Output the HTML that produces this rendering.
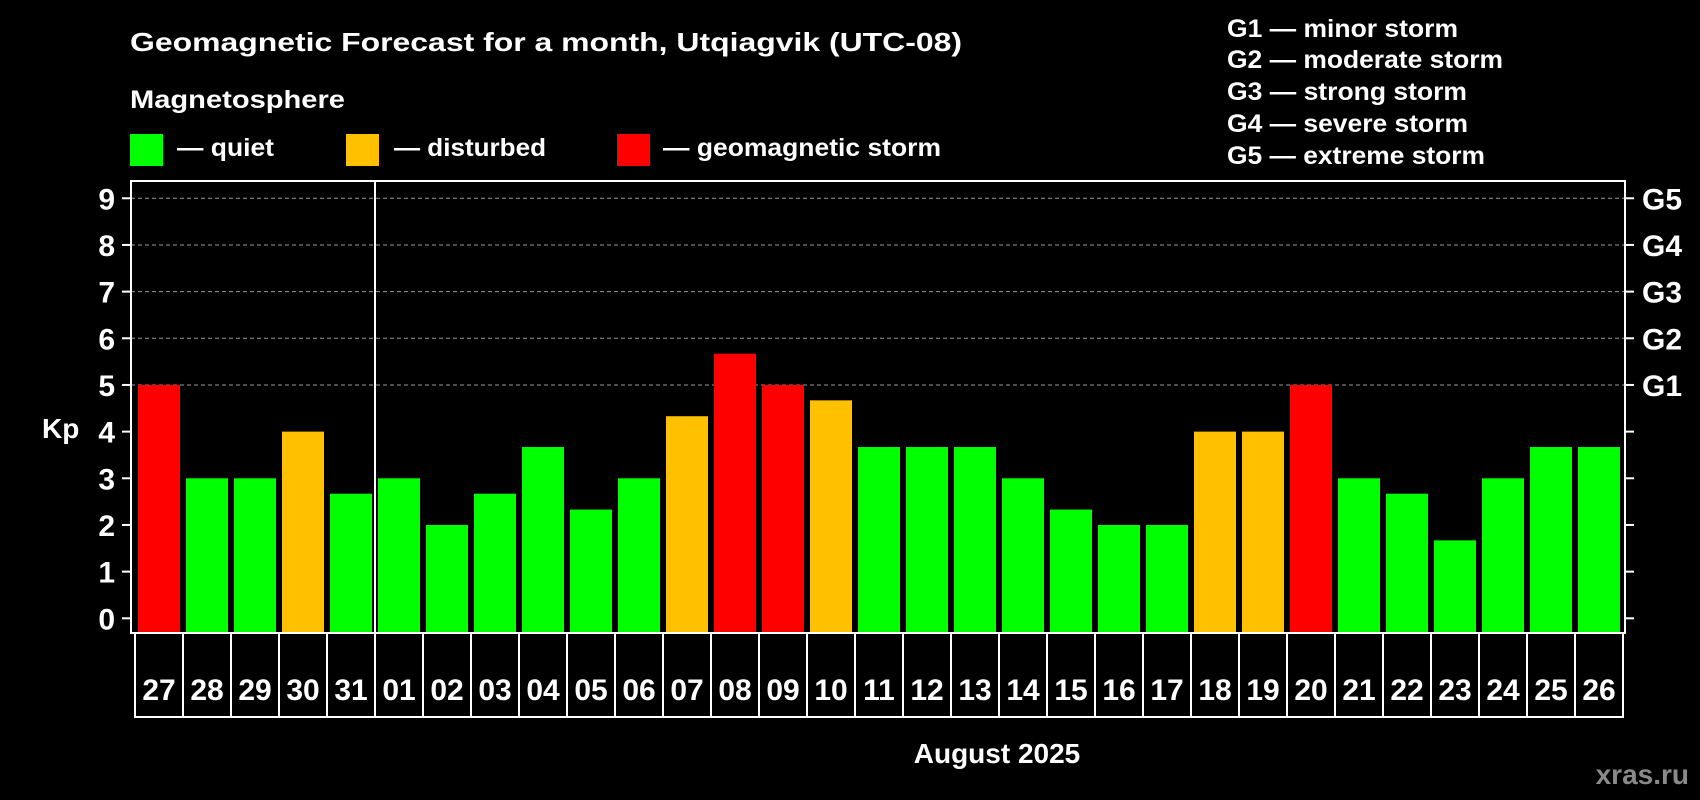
<!DOCTYPE html>
<html><head><meta charset="utf-8">
<style>
html,body{margin:0;padding:0;background:#000;}
svg{display:block;font-family:"Liberation Sans",Arial,sans-serif;font-weight:bold;}
</style></head>
<body>
<svg id="chart" width="1700" height="800" viewBox="0 0 1700 800">
<rect x="0" y="0" width="1700" height="800" fill="#000"/>
<text x="130" y="51" font-size="26" fill="#fff" textLength="832" lengthAdjust="spacingAndGlyphs">Geomagnetic Forecast for a month, Utqiagvik (UTC-08)</text>
<text x="130" y="108" font-size="25" fill="#fff" textLength="215" lengthAdjust="spacingAndGlyphs">Magnetosphere</text>
<g>
<rect x="130" y="134" width="33" height="32" fill="#00ff00"/>
<text x="177" y="156" font-size="25" fill="#fff" textLength="97" lengthAdjust="spacingAndGlyphs">— quiet</text></g>
<g>
<rect x="346" y="134" width="33" height="32" fill="#ffc000"/>
<text x="394" y="156" font-size="25" fill="#fff" textLength="152" lengthAdjust="spacingAndGlyphs">— disturbed</text></g>
<g>
<rect x="617" y="134" width="33" height="32" fill="#ff0000"/>
<text x="663" y="156" font-size="25" fill="#fff" textLength="278" lengthAdjust="spacingAndGlyphs">— geomagnetic storm</text></g>
<g font-size="25" fill="#fff">
<text x="1227" y="37" textLength="231" lengthAdjust="spacingAndGlyphs">G1 — minor storm</text>
<text x="1227" y="68" textLength="276" lengthAdjust="spacingAndGlyphs">G2 — moderate storm</text>
<text x="1227" y="100" textLength="240" lengthAdjust="spacingAndGlyphs">G3 — strong storm</text>
<text x="1227" y="132" textLength="241" lengthAdjust="spacingAndGlyphs">G4 — severe storm</text>
<text x="1227" y="164" textLength="258" lengthAdjust="spacingAndGlyphs">G5 — extreme storm</text>
</g>
<text x="42" y="438" font-size="28" fill="#fff">Kp</text>
<text x="997" y="763" font-size="28" fill="#fff" text-anchor="middle">August 2025</text>
<text x="1689" y="784" font-size="28" fill="#8a8a8a" text-anchor="end">xras.ru</text>
<g id="grid"></g>
<g id="bars"></g>
<g id="axes"></g>
</svg>
<script>
const days = ["27","28","29","30","31","01","02","03","04","05","06","07","08","09","10","11","12","13","14","15","16","17","18","19","20","21","22","23","24","25","26"];
const kpValues = [5,3,3,4,2.67,3,2,2.67,3.67,2.33,3,4.33,5.67,5,4.67,3.67,3.67,3.67,3,2.33,2,2,4,4,5,3,2.67,1.67,3,3.67,3.67];
const yTicks = [0,1,2,3,4,5,6,7,8,9];
const gLabels = ["G1","G2","G3","G4","G5"];
const gLevels = [5,6,7,8,9];

const NS = "http://www.w3.org/2000/svg";
const L = 131, R = 1625, T = 181, B = 633;
const y0 = 618.3, unit = 46.67;
function yScale(v){ return y0 - v*unit; }
function xScale(i){ return 138 + i*48; }
function color(v){ return v >= 5 ? "#ff0000" : (v >= 4 ? "#ffc000" : "#00ff00"); }
function mk(tag, attrs, parent){
  const e = document.createElementNS(NS, tag);
  for (const k in attrs) e.setAttribute(k, attrs[k]);
  parent.appendChild(e); return e;
}
const grid = document.getElementById("grid");
const bars = document.getElementById("bars");
const axes = document.getElementById("axes");

gLevels.forEach(v => {
  const ln = mk("line", {x1: L, x2: R, y1: yScale(v), y2: yScale(v), stroke: "#9a9a9a", "stroke-width": 1, "stroke-dasharray": "4,3"}, grid);
  
  
});

kpValues.forEach((v, i) => {
  const top = yScale(v);
  const r = mk("rect", {x: xScale(i), y: top, width: 42, height: B - top, fill: color(v)}, bars);
  
  
});

const frame = mk("rect", {x: L, y: T, width: R - L, height: B - T, fill: "none", stroke: "#fff", "stroke-width": 2}, axes);


const sep = mk("line", {x1: 375, x2: 375, y1: T, y2: B, stroke: "#fff", "stroke-width": 2}, axes);



yTicks.forEach(v => {
  const y = yScale(v);
  const t = mk("line", {x1: 122, x2: L, y1: y, y2: y, stroke: "#fff", "stroke-width": 2}, axes);
  
  
  const tr = mk("line", {x1: R, x2: 1634, y1: y, y2: y, stroke: "#fff", "stroke-width": 2}, axes);
  
  
  const lb = mk("text", {x: 115, y: y + 11, "font-size": 30, fill: "#fff", "text-anchor": "end"}, axes);
  
  
  lb.textContent = v;
});

gLevels.forEach((v, i) => {
  const g = mk("text", {x: 1642, y: yScale(v) + 11, "font-size": 30, fill: "#fff"}, axes);
  
  
  g.textContent = gLabels[i];
});

days.forEach((d, i) => {
  const bx = 135 + i*48;
  const box = mk("rect", {x: bx, y: B, width: 48, height: 84, fill: "none", stroke: "#fff", "stroke-width": 2}, axes);
  
  
  const tx = mk("text", {x: bx + 24, y: 700, "font-size": 30, fill: "#fff", "text-anchor": "middle"}, axes);
  
  
  tx.textContent = d;
});
</script>
</body></html>
